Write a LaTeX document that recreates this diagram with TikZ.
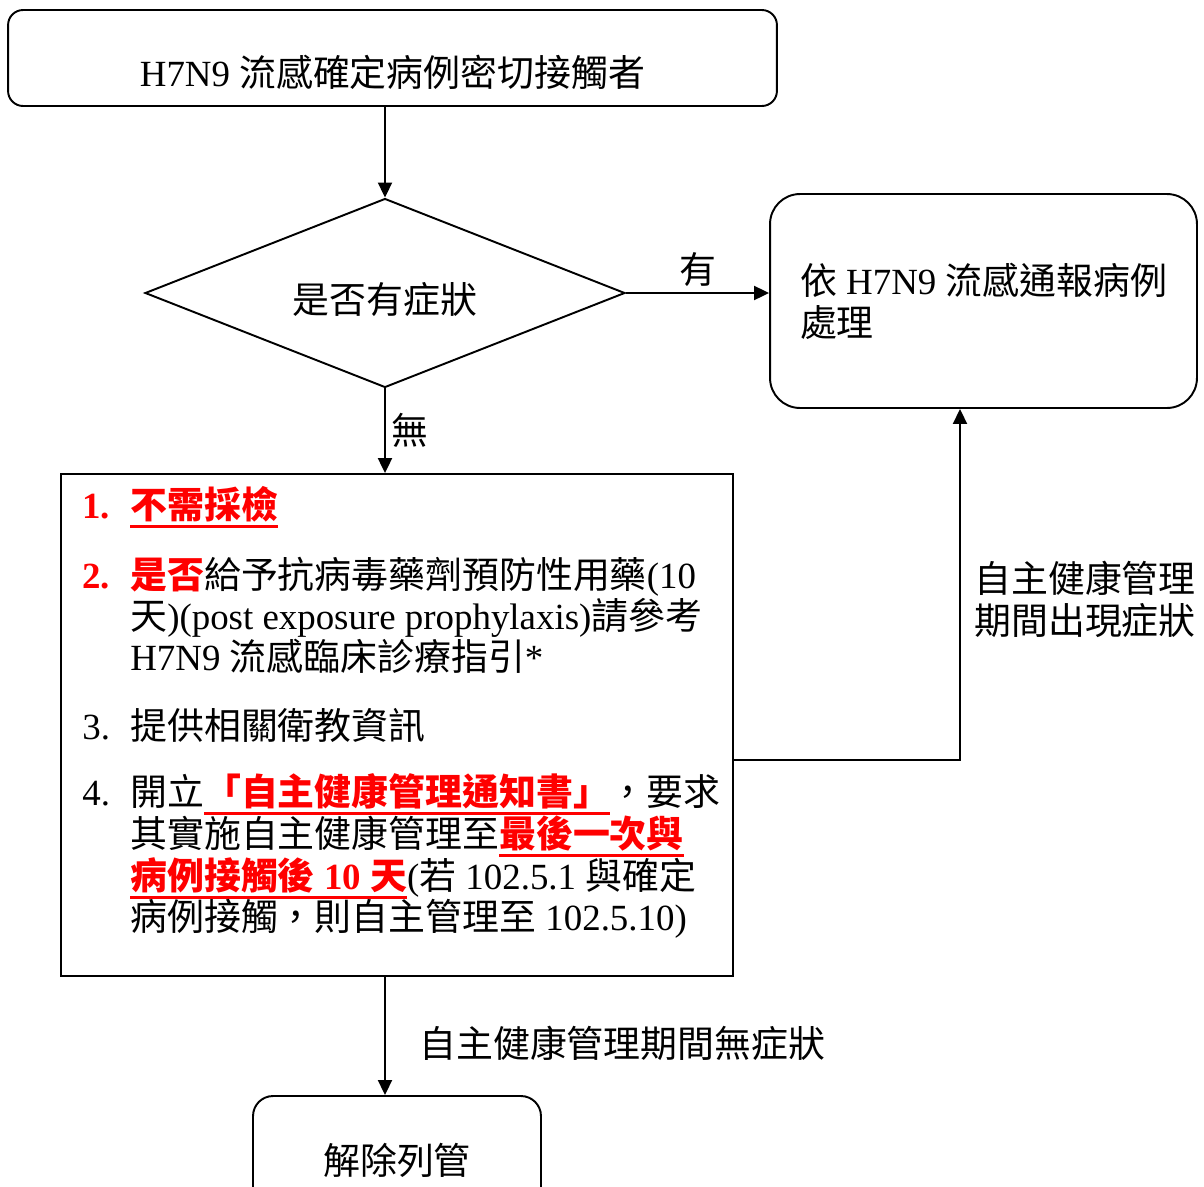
\documentclass[tikz,border=0pt]{standalone}
\usepackage{fontspec}
\setmainfont{Liberation Serif}
\newfontfamily\cjk{Noto Sans CJK TC}
\usetikzlibrary{shapes.geometric,arrows.meta}
\newcommand\zh[1]{{\cjk #1}}
\newcommand\hot[1]{{\color{red}\bfseries #1}}
\newsavebox\ulbox
\newcommand\redul[1]{\sbox\ulbox{\color{red}\bfseries #1}\rlap{\color{red}\rule[-5.6pt]{\wd\ulbox}{1.4pt}}\usebox\ulbox}

\begin{document}
\begin{tikzpicture}[x=0.02cm, y=-0.02cm,
    every node/.style={font=\fontsize{21}{23.8}\selectfont},
    box/.style={draw, line width=1.1pt},
    flow/.style={line width=1.1pt, -{Triangle[length=0.3cm,width=0.28cm]}},
    ln/.style={anchor=base west, inner sep=0pt}]
        \useasboundingbox (0,0) rectangle (1204,1187);
        \clip (0,0) rectangle (1204,1187);
        % boxes
        \node[box, rounded corners=0.3cm, minimum width=15.38cm, minimum height=1.92cm,
            text height=32.9pt, text depth=0pt] (contact) at (392.5,58) {H7N9 \zh{流感確定病例密切接觸者}};
        \node[box, diamond, aspect=2.54, minimum width=9.6cm, minimum height=3.78cm, inner sep=0pt,
            text height=23.8pt, text depth=0pt] (symp) at (385,293) {\zh{是否有症狀}};
        \node[box, rounded corners=0.6cm, minimum width=8.54cm, minimum height=4.28cm,
            align=left] (report) at (983.5,301) {\zh{依} H7N9 \zh{流感通報病例}\\\zh{處理}};
        \node[box, minimum width=13.44cm, minimum height=10.04cm] (advice) at (397,725) {};
        \node[box, rounded corners=0.4cm, minimum width=5.76cm, minimum height=2.56cm] (release) at (397,1160) {\zh{解除列管}};
        % items in the big box
        \node[ln] (n1) at (82,518) {\hot{1.}};
        \node[ln] (t1) at (130,518) {\redul{\zh{不需採檢}}};
        \node[ln] (n2) at (82,588) {\hot{2.}};
        \node[ln] (t2a) at (130,588) {\hot{\zh{是否}}\zh{給予抗病毒藥劑預防性用藥}(10};
        \node[ln] (t2b) at (130,629) {\zh{天})(post exposure prophylaxis)\zh{請參考}};
        \node[ln] (t2c) at (130,670) {H7N9 \zh{流感臨床診療指引}*};
        \node[ln] (n3) at (82,739) {3.};
        \node[ln] (t3) at (130,739) {\zh{提供相關衛教資訊}};
        \node[ln] (n4) at (82,805) {4.};
        \node[ln] (t4a) at (130,805) {\zh{開立}\redul{\zh{「自主健康管理通知書」}}\zh{，要求}};
        \node[ln] (t4b) at (130,847) {\zh{其實施自主健康管理至}\redul{\zh{最後一次與}}};
        \node[ln] (t4c) at (130,889) {\redul{\zh{病例接觸後} 10 \zh{天}}(\zh{若} 102.5.1 \zh{與確定}};
        \node[ln] (t4d) at (130,930) {\zh{病例接觸，則自主管理至} 102.5.10)};
        % connectors
        \coordinate (bend) at (960,760);
        \draw[flow] (contact.south -| symp.north) -- (symp.north);
        \draw[flow] (symp.east) -- (symp.east -| report.west) node[midway, above] {\zh{有}};
        \draw[flow] (symp.south) -- (symp.south |- advice.north) node[midway, right] {\zh{無}};
        \draw[flow] (advice.east |- bend) -- (bend) -- (bend |- report.south)
            node[midway, right, align=center, xshift=0.15cm, yshift=-0.3cm] {\zh{自主健康管理}\\\zh{期間出現症狀}};
        \draw[flow] (advice.south -| symp.south) -- (symp.south |- release.north)
            node[midway, right, xshift=0.55cm, yshift=-0.15cm] {\zh{自主健康管理期間無症狀}};
\end{tikzpicture}
\end{document}
